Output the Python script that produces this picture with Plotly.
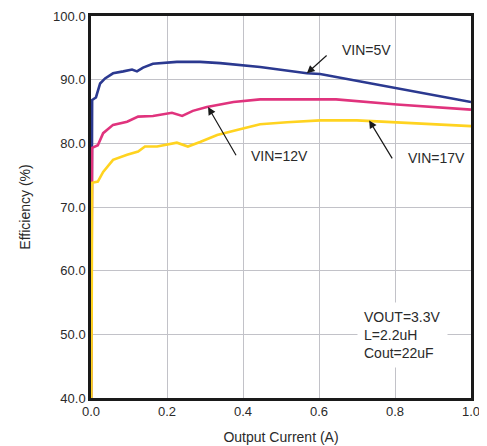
import plotly.graph_objects as go

# Output current (A) and efficiency (%)
i_5v = [0.0, 0.001, 0.003, 0.013, 0.024, 0.037, 0.058, 0.085, 0.108, 0.121, 0.137, 0.163, 0.226, 0.287, 0.34, 0.445, 0.568, 0.603, 0.70, 0.805, 0.90, 1.0]
e_5v = [40.0, 63.0, 86.8, 87.2, 89.4, 90.2, 91.0, 91.3, 91.6, 91.3, 91.9, 92.5, 92.8, 92.8, 92.6, 92.0, 91.0, 90.9, 89.8, 88.6, 87.6, 86.5]

i_12v = [0.0, 0.001, 0.003, 0.018, 0.032, 0.058, 0.095, 0.124, 0.163, 0.213, 0.24, 0.268, 0.305, 0.375, 0.445, 0.50, 0.60, 0.645, 0.805, 0.90, 1.0]
e_12v = [40.0, 55.0, 79.3, 79.7, 81.6, 82.9, 83.4, 84.2, 84.3, 84.8, 84.3, 85.1, 85.7, 86.5, 86.9, 86.9, 86.9, 86.9, 86.1, 85.7, 85.3]

i_17v = [0.0, 0.001, 0.003, 0.018, 0.032, 0.058, 0.095, 0.124, 0.142, 0.174, 0.226, 0.255, 0.287, 0.332, 0.384, 0.445, 0.516, 0.603, 0.70, 0.805, 0.90, 1.0]
e_17v = [40.0, 40.0, 73.8, 74.0, 75.5, 77.4, 78.2, 78.7, 79.5, 79.5, 80.1, 79.5, 80.2, 81.3, 82.1, 83.0, 83.3, 83.6, 83.6, 83.3, 83.0, 82.7]

x_ticks = [0.0, 0.2, 0.4, 0.6, 0.8, 1.0]
y_ticks = [40, 50, 60, 70, 80, 90, 100]

fig = go.Figure()
fig.add_trace(go.Scatter(x=i_5v, y=e_5v, mode="lines", name="VIN=5V",
                         line=dict(color="#2b3990", width=2.6)))
fig.add_trace(go.Scatter(x=i_12v, y=e_12v, mode="lines", name="VIN=12V",
                         line=dict(color="#e0337d", width=2.6)))
fig.add_trace(go.Scatter(x=i_17v, y=e_17v, mode="lines", name="VIN=17V",
                         line=dict(color="#ffd320", width=2.6)))

font_fam = "Liberation Sans, Arial, sans-serif"
txt_col = "#2a2a2a"
axis_common = dict(showgrid=True, gridcolor="#c2c2c8", gridwidth=1,
                   showline=True, linecolor="#1a1a1a", linewidth=2.5, mirror=True,
                   zeroline=False, ticks="", automargin=False,
                   tickfont=dict(family=font_fam, size=13, color=txt_col))

fig.update_xaxes(range=[0, 1.0], tickvals=x_ticks, ticktext=[f"{v:.1f}" for v in x_ticks],
                 title=dict(text="Output Current (A)", font=dict(family=font_fam, size=14, color=txt_col), standoff=14),
                 **axis_common)
fig.update_yaxes(range=[40, 100], tickvals=y_ticks, ticktext=[f"{v:.1f}" for v in y_ticks],
                 title=dict(text="Efficiency (%)", font=dict(family=font_fam, size=14, color=txt_col), standoff=20),
                 **axis_common)

arrows = [
    (0.568, 91.0, 0.624, 94.0),
    (0.308, 85.7, 0.384, 77.9),
    (0.732, 83.6, 0.795, 77.4),
]
for (xt, yt, xs, ys) in arrows:
    fig.add_annotation(x=xt, y=yt, ax=xs, ay=ys, xref="x", yref="y", axref="x", ayref="y",
                       text="", showarrow=True, arrowhead=2, arrowsize=1.3, arrowwidth=1.2,
                       arrowcolor="#1a1a1a")

labels = [
    ("VIN=5V", 0.726, 94.7),
    ("VIN=12V", 0.497, 78.0),
    ("VIN=17V", 0.908, 77.7),
]
for (t, x, y) in labels:
    fig.add_annotation(x=x, y=y, xref="x", yref="y", text=t, showarrow=False,
                       font=dict(family=font_fam, size=14, color=txt_col))

fig.add_annotation(x=0.70, y=49.9, xref="x", yref="y", xanchor="left", yanchor="middle",
                   text="VOUT=3.3V<br>L=2.2uH<br>Cout=22uF", align="left", showarrow=False,
                   bgcolor="white", borderpad=6,
                   font=dict(family=font_fam, size=14, color=txt_col))

# page body adds an 8px offset, so the figure is 8px smaller and margins shifted
fig.update_layout(width=479, height=438, margin=dict(l=83, r=16, t=8, b=48),
                  plot_bgcolor="white", paper_bgcolor="white", showlegend=False)

fig.write_html("out.html")
